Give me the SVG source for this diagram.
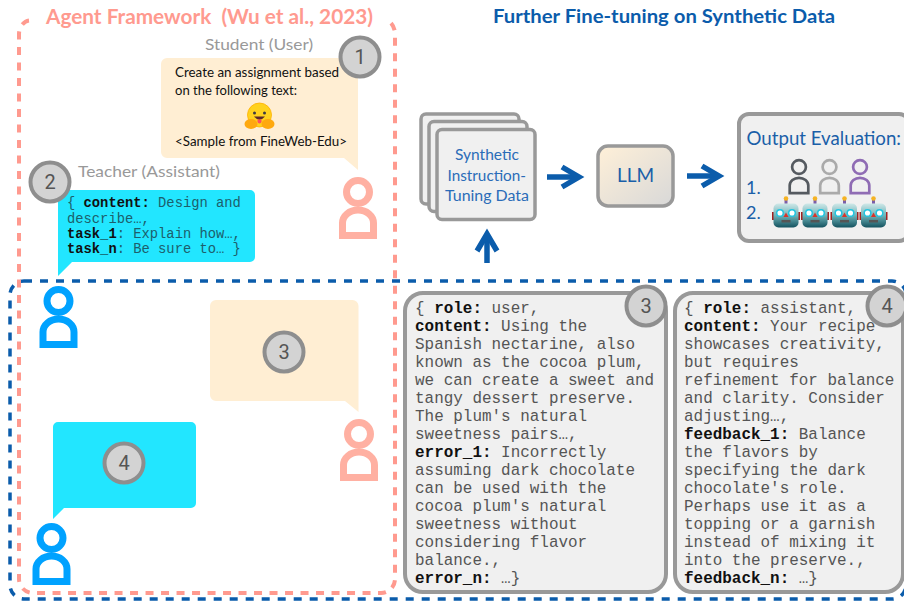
<svg xmlns="http://www.w3.org/2000/svg" width="904" height="601" viewBox="0 0 904 601">
<style>
text{font-family:"Lato","Noto Sans","Liberation Sans",sans-serif}
.mono,.mono text{font-family:"Liberation Mono","DejaVu Sans Mono",monospace}
.b{font-weight:700;fill:#111}
.pt{font-size:15.95px;fill:#555}
.bt{font-size:13.8px;fill:#1d5f6c}
.card{fill:#f0f0f0;stroke:#999;stroke-width:3.5}
.panel{fill:#f0f0f0;stroke:#999;stroke-width:4}
.badge circle{fill:#d3d3d3;stroke:#8e8e8e;stroke-width:4}
.badge text{font-family:"Roboto","Liberation Sans",sans-serif;font-size:20px;fill:#555;text-anchor:middle}
.peach{fill:#ffeed3}
.cyan{fill:#22e6ff}
.arrow{fill:none;stroke:#0b5cab;stroke-width:5.5;marker-end:url(#chev)}
.blue{fill:#1a5fa8}
</style>
<defs>
<marker id="chev" markerUnits="userSpaceOnUse" markerWidth="26" markerHeight="30" viewBox="0 0 26 30" refX="20" refY="15" orient="auto" overflow="visible">
<path d="M3,5 L20,15 L3,25" fill="none" stroke="#0b5cab" stroke-width="5.5"/>
</marker>
<g id="person" fill="none">
<circle cx="0" cy="0" r="11.5"/>
<path d="M-15.5,43.5V31a15.5,13 0 0 1 31,0V43.5Z"/>
</g>
<linearGradient id="llmg" x1="0" y1="0" x2="1" y2="1"><stop offset="0" stop-color="#fff0d8"/><stop offset="1" stop-color="#d8d8d8"/></linearGradient>
<linearGradient id="robg" x1="0" y1="0" x2="0" y2="1"><stop offset="0" stop-color="#cfe8e8"/><stop offset="0.5" stop-color="#6fb3b8"/><stop offset="1" stop-color="#14525f"/></linearGradient>
<g id="robot">
<rect x="-14" y="13" width="28" height="8" fill="#a32020"/>
<path d="M0,0V5" stroke="#7a5ea8" stroke-width="3"/>
<circle cx="0" cy="-0.500" r="2.300" fill="#f5b324"/>
<rect x="-12.500" y="4.500" width="25" height="24" rx="5" fill="url(#robg)"/>
<circle cx="-6" cy="14" r="3.300" fill="#fff" stroke="#22c4e0" stroke-width="1.500"/>
<circle cx="6" cy="14" r="3.300" fill="#fff" stroke="#22c4e0" stroke-width="1.500"/>
<path d="M0,13.500L2.500,18H-2.500Z" fill="#d8342c"/>
<rect x="-4.500" y="21" width="9" height="2.500" fill="#555"/>
</g>
</defs>

<g id="frames" fill="none">
<rect id="blue-frame" x="10" y="281" width="896" height="318" rx="14" stroke="#0b5cab" stroke-width="3.500" stroke-dasharray="8 8"/>
<path id="pink-frame" d="M29,20.500C24,21 19,27 19,34V579a14,14 0 0 0 14,14H381a14,14 0 0 0 14,-14V34C395,27 391,22 387,20" stroke="#ff9a8f" stroke-width="4" stroke-dasharray="8 7.500"/>
</g>

<g id="titles">
<text x="46" y="24" font-size="20.500" font-weight="700" fill="#ff9a8f" textLength="327" lengthAdjust="spacingAndGlyphs" xml:space="preserve">Agent Framework  (Wu et al., 2023)</text>
<text x="493" y="23" font-size="18" font-weight="700" fill="#0b5cab" textLength="342" lengthAdjust="spacingAndGlyphs">Further Fine-tuning on Synthetic Data</text>
</g>

<g id="student-bubble">
<text x="205" y="50" font-size="15" fill="#999" textLength="108" lengthAdjust="spacingAndGlyphs">Student (User)</text>
<path class="peach" d="M167,58H352a6,6 0 0 1 6,6V170L344,158H167a6,6 0 0 1 -6,-6V64a6,6 0 0 1 6,-6Z"/>
<text x="175" y="77" font-size="12.500" fill="#111" textLength="164" lengthAdjust="spacingAndGlyphs">Create an assignment based</text>
<text x="175" y="95" font-size="12.500" fill="#111" textLength="122" lengthAdjust="spacingAndGlyphs">on the following text:</text>
<text x="175" y="146" font-size="12.500" fill="#111" textLength="172" lengthAdjust="spacingAndGlyphs">&lt;Sample from FineWeb-Edu&gt;</text>
<g id="hug-emoji">
<circle cx="259.500" cy="115" r="12" fill="#ffd21e" stroke="#ffb000" stroke-width="0.800"/>
<circle cx="254.500" cy="113" r="1.500" fill="#3a3b45"/>
<circle cx="264.500" cy="113" r="1.500" fill="#3a3b45"/>
<path d="M254,116.500Q259.500,123 265,116.500Z" fill="#5a2a2a"/>
<path d="M257.500,119.500h4v2a2,2 0 0 1 -4,0Z" fill="#ff4f5f"/>
<ellipse cx="251" cy="124" rx="6.500" ry="5" fill="#ffa90f"/>
<ellipse cx="268" cy="124" rx="6.500" ry="5" fill="#ffa90f"/>
</g>
</g>

<g id="teacher-bubble">
<text x="78" y="177" font-size="15" fill="#999" textLength="142" lengthAdjust="spacingAndGlyphs">Teacher (Assistant)</text>
<path class="cyan" d="M64,190H250a5,5 0 0 1 5,5V257a5,5 0 0 1 -5,5H72L58,276V196a6,6 0 0 1 6,-6Z"/>
<g class="mono">
<text class="bt" x="67" y="207">{ <tspan class="b">content:</tspan> Design and</text>
<text class="bt" x="67" y="222.500">describe…,</text>
<text class="bt" x="67" y="237.500"><tspan class="b">task_1</tspan>: Explain how…,</text>
<text class="bt" x="67" y="252.500"><tspan class="b">task_n</tspan>: Be sure to… }</text>
</g>
</g>

<g id="bubble-3"><path class="peach" d="M216,300H352.500a6,6 0 0 1 6,6V412L345,401H216a6,6 0 0 1 -6,-6V306a6,6 0 0 1 6,-6Z"/></g>
<g id="bubble-4"><path class="cyan" d="M58,422H191a5,5 0 0 1 5,5V503a5,5 0 0 1 -5,5H64L53,519V427a5,5 0 0 1 5,-5Z"/></g>

<g id="person-student" stroke="#ffb0a2" stroke-width="7"><use href="#person" transform="translate(358,192)"/></g>
<g id="person-teacher" stroke="#00a2ff" stroke-width="7"><use href="#person" transform="translate(58.500,301)"/></g>
<g id="person-student-2" stroke="#ffb0a2" stroke-width="7"><use href="#person" transform="translate(359,434)"/></g>
<g id="person-teacher-2" stroke="#00a2ff" stroke-width="7"><use href="#person" transform="translate(51.500,538)"/></g>

<g id="synthetic-data">
<rect class="card" x="421" y="114" width="98" height="90" rx="5"/>
<rect class="card" x="429" y="121.500" width="98" height="90" rx="5"/>
<rect class="card" x="437" y="129.500" width="98" height="90" rx="5"/>
<g fill="#2a6cb8" font-size="14.500">
<text x="455" y="160" textLength="64" lengthAdjust="spacingAndGlyphs">Synthetic</text>
<text x="447.500" y="181" textLength="78.500" lengthAdjust="spacingAndGlyphs">Instruction-</text>
<text x="445" y="201" textLength="84" lengthAdjust="spacingAndGlyphs">Tuning Data</text>
</g>
</g>

<g id="llm">
<rect x="598" y="146" width="75" height="60" rx="10" fill="url(#llmg)" stroke="#999" stroke-width="3.500"/>
<text class="blue" x="635.500" y="182" font-size="19" text-anchor="middle">LLM</text>
</g>

<g id="output-evaluation">
<rect x="739" y="114" width="170" height="127" rx="10" class="panel"/>
<text class="blue" x="746.500" y="145" font-size="18.500" textLength="154.500" lengthAdjust="spacingAndGlyphs">Output Evaluation:</text>
<text class="blue" x="746" y="194" font-size="18">1.</text>
<text class="blue" x="746" y="219" font-size="18">2.</text>
<g stroke-width="4.500">
<use href="#person" transform="translate(799,167) scale(.6)" stroke="#555a60"/>
<use href="#person" transform="translate(829.500,167) scale(.6)" stroke="#aaa"/>
<use href="#person" transform="translate(860,167) scale(.6)" stroke="#8f6cb4"/>
</g>
<use href="#robot" transform="translate(786,199)"/>
<use href="#robot" transform="translate(815,199)"/>
<use href="#robot" transform="translate(844.500,199)"/>
<use href="#robot" transform="translate(873.500,199)"/>
</g>

<g id="panel-3">
<rect class="panel" x="405" y="293" width="261" height="299" rx="18"/>
<g class="mono">
<text class="pt" x="415" y="313">{ <tspan class="b">role:</tspan> user,</text>
<text class="pt" x="415" y="331"><tspan class="b">content:</tspan> Using the</text>
<text class="pt" x="415" y="349">Spanish nectarine, also</text>
<text class="pt" x="415" y="367">known as the cocoa plum,</text>
<text class="pt" x="415" y="385">we can create a sweet and</text>
<text class="pt" x="415" y="403">tangy dessert preserve.</text>
<text class="pt" x="415" y="421">The plum's natural</text>
<text class="pt" x="415" y="439">sweetness pairs…,</text>
<text class="pt" x="415" y="457"><tspan class="b">error_1:</tspan> Incorrectly</text>
<text class="pt" x="415" y="475">assuming dark chocolate</text>
<text class="pt" x="415" y="492.500">can be used with the</text>
<text class="pt" x="415" y="510.500">cocoa plum's natural</text>
<text class="pt" x="415" y="528.500">sweetness without</text>
<text class="pt" x="415" y="546.500">considering flavor</text>
<text class="pt" x="415" y="564.500">balance.,</text>
<text class="pt" x="415" y="582.500"><tspan class="b">error_n:</tspan> …}</text>
</g>
</g>

<g id="panel-4">
<rect class="panel" x="675" y="293" width="228" height="299" rx="18"/>
<g class="mono">
<text class="pt" x="684" y="313">{ <tspan class="b">role:</tspan> assistant,</text>
<text class="pt" x="684" y="331"><tspan class="b">content:</tspan> Your recipe</text>
<text class="pt" x="684" y="349">showcases creativity,</text>
<text class="pt" x="684" y="367">but requires</text>
<text class="pt" x="684" y="385">refinement for balance</text>
<text class="pt" x="684" y="403">and clarity. Consider</text>
<text class="pt" x="684" y="421">adjusting…,</text>
<text class="pt" x="684" y="439"><tspan class="b">feedback_1:</tspan> Balance</text>
<text class="pt" x="684" y="457">the flavors by</text>
<text class="pt" x="684" y="475">specifying the dark</text>
<text class="pt" x="684" y="493">chocolate's role.</text>
<text class="pt" x="684" y="510.500">Perhaps use it as a</text>
<text class="pt" x="684" y="528.500">topping or a garnish</text>
<text class="pt" x="684" y="546.500">instead of mixing it</text>
<text class="pt" x="684" y="564.500">into the preserve.,</text>
<text class="pt" x="684" y="582.500"><tspan class="b">feedback_n:</tspan> …}</text>
</g>
</g>

<g id="badges">
<g class="badge" id="badge-1"><circle cx="360" cy="57" r="19.500"/><text x="360" y="64">1</text></g>
<g class="badge" id="badge-2"><circle cx="50" cy="182" r="19.500"/><text x="50" y="189">2</text></g>
<g class="badge" id="badge-3a"><circle cx="284" cy="352" r="19.500"/><text x="284" y="359">3</text></g>
<g class="badge" id="badge-4a"><circle cx="124" cy="463" r="19.500"/><text x="124" y="470">4</text></g>
<g class="badge" id="badge-3b"><circle cx="646" cy="306" r="19.500"/><text x="646" y="313">3</text></g>
<g class="badge" id="badge-4b"><circle cx="887" cy="306" r="19.500"/><text x="887" y="313">4</text></g>
</g>

<g id="connectors">
<path class="arrow" d="M547,177H579"/>
<path class="arrow" d="M687,176H719"/>
<path class="arrow" d="M487,263V234"/>
</g>
</svg>
